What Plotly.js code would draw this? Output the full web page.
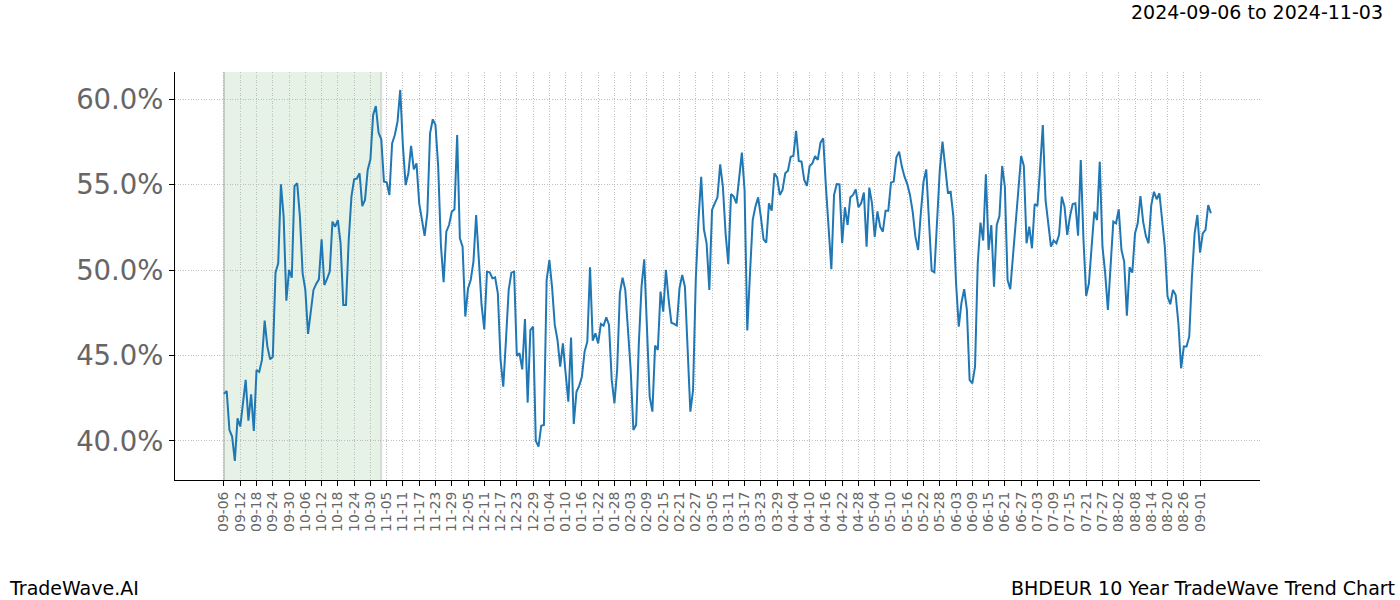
<!DOCTYPE html>
<html>
<head>
<meta charset="utf-8">
<script src="https://cdn.plot.ly/plotly-3.0.1.min.js"></script>
<style>html,body{margin:0;padding:0;background:#fff;}#chart{width:1400px;height:600px;}</style>
</head>
<body>
<div id="chart"></div>
<script>
// First date of the daily series and shaded window
const startDate = "2024-09-06";
const shadeStart = "2024-09-06";
const shadeEnd = "2024-11-03";
const titleText = "2024-09-06 to 2024-11-03";
const brandText = "TradeWave.AI";
const chartName = "BHDEUR 10 Year TradeWave Trend Chart";

// Daily trend values (%), one per calendar day from startDate
const trendValues = [
42.75,42.92,40.64,40.25,38.83,41.32,40.84,42.2,43.57,41.19,
42.73,40.58,44.15,44.04,44.74,47.04,45.52,44.78,44.93,49.85,
50.40,55.02,53.13,48.21,50.01,49.56,54.93,55.08,53.13,49.81,
48.84,46.26,47.67,48.84,49.19,49.46,51.80,49.13,49.48,49.91,
52.84,52.54,52.93,51.57,47.96,47.96,51.76,54.30,55.32,55.36,
55.67,53.75,54.11,55.86,56.49,59.08,59.61,58.05,57.66,55.18,
55.14,54.40,57.42,57.91,58.69,60.55,57.23,54.98,55.67,57.27,
55.90,56.25,53.91,52.93,52.00,53.33,58.01,58.83,58.50,56.06,
51.47,49.29,52.25,52.64,53.42,53.56,57.91,51.86,51.37,47.28,
48.93,49.42,50.49,53.23,50.40,47.96,46.53,49.91,49.87,49.52,
49.58,48.64,44.74,43.18,45.91,48.84,49.85,49.91,44.97,45.13,
44.19,47.14,42.24,46.49,46.69,40.00,39.66,40.89,40.93,49.42,
50.59,49.0,46.79,45.91,44.35,45.71,43.96,42.30,46.05,40.99,
42.88,43.22,43.76,45.23,45.81,50.17,45.87,46.30,45.71,46.85,
46.75,47.24,46.79,43.57,42.20,44.15,48.64,49.56,48.84,46.69,
44.15,40.64,40.93,45.71,49.03,50.63,46.69,42.59,41.71,45.58,
45.32,48.74,47.57,50.01,48.25,46.92,46.85,46.75,48.93,49.71,
49.03,44.93,41.71,42.98,49.42,52.93,55.47,52.39,51.57,48.84,
53.52,53.91,54.26,56.19,54.89,52.15,50.36,54.46,54.30,53.91,
55.47,56.88,54.69,46.46,49.81,52.93,53.72,54.26,53.13,51.80,
51.61,53.91,53.48,55.67,55.43,54.40,54.69,55.67,55.82,56.64,
56.68,58.15,56.39,56.35,55.28,54.93,56.10,56.25,56.68,56.45,
57.46,57.72,54.89,52.54,50.05,54.40,55.04,55.02,51.57,53.68,
52.64,54.26,54.40,54.73,53.68,53.91,54.54,51.37,54.83,53.91,
51.94,53.44,52.54,52.25,53.48,53.48,55.12,55.18,56.60,56.94,
56.06,55.47,55.04,54.40,53.42,51.96,51.18,53.33,55.18,55.90,
52.93,49.97,49.87,52.74,55.86,57.52,56.16,54.54,54.59,53.13,
49.23,46.69,48.10,48.88,47.67,43.57,43.37,44.35,50.40,52.78,
51.73,55.61,51.18,52.64,49.03,52.64,53.17,56.10,54.89,49.42,
48.88,50.79,53.03,54.89,56.68,56.10,51.57,52.54,51.28,53.87,
53.75,55.96,58.50,54.11,52.54,51.37,51.73,51.57,52.06,54.30,
53.72,52.06,53.13,53.87,53.91,52.02,56.45,51.76,48.49,49.23,
51.37,53.42,52.93,56.35,51.37,49.81,47.67,50.21,52.84,52.74,
53.56,51.18,50.50,47.33,50.17,49.85,52.15,52.74,54.34,52.84,
52.00,51.57,53.81,54.59,54.15,54.50,53.03,51.37,48.45,48.00,
48.84,48.54,46.89,44.25,45.52,45.52,46.10,49.62,52.15,53.23,
51.02,52.15,52.35,53.81,53.33
];

// X tick labels (every 6 days)
const xTickLabels = ["09-06","09-12","09-18","09-24","09-30","10-06","10-12","10-18","10-24","10-30",
"11-05","11-11","11-17","11-23","11-29","12-05","12-11","12-17","12-23","12-29",
"01-04","01-10","01-16","01-22","01-28","02-03","02-09","02-15","02-21","02-27",
"03-05","03-11","03-17","03-23","03-29","04-04","04-10","04-16","04-22","04-28",
"05-04","05-10","05-16","05-22","05-28","06-03","06-09","06-15","06-21","06-27",
"07-03","07-09","07-15","07-21","07-27","08-02","08-08","08-14","08-20","08-26","09-01"];
const yTickVals = [40, 45, 50, 55, 60];
const yTickLabels = ["40.0%", "45.0%", "50.0%", "55.0%", "60.0%"];

const DAY = 86400000;
const t0 = Date.parse(startDate + "T00:00:00Z");
function fmt(ms) {
  const d = new Date(ms);
  const p = n => String(n).padStart(2, "0");
  return d.getUTCFullYear() + "-" + p(d.getUTCMonth() + 1) + "-" + p(d.getUTCDate()) +
    " " + p(d.getUTCHours()) + ":" + p(d.getUTCMinutes()) + ":" + p(d.getUTCSeconds());
}
const xDates = trendValues.map((v, i) => fmt(t0 + i * DAY));
const xTickVals = xTickLabels.map((s, i) => fmt(t0 + i * 6 * DAY));

const trace = {
  x: xDates, y: trendValues, type: "scatter", mode: "lines",
  line: {color: "#1f77b4", width: 2}, hoverinfo: "skip"
};

const font = "DejaVu Sans, Liberation Sans, sans-serif";
const gridDash = "1px,1.6px";
const layout = {
  width: 1400, height: 600,
  margin: {l: 175, r: 140, t: 72, b: 120},
  paper_bgcolor: "#ffffff", plot_bgcolor: "#ffffff",
  showlegend: false,
  xaxis: {
    type: "date",
    range: [fmt(t0 - 18.07 * DAY), fmt(t0 + 382.1 * DAY)],
    tickmode: "array", tickvals: xTickVals, ticktext: xTickLabels,
    tickangle: -90,
    tickfont: {family: font, size: 13.9, color: "#666666"},
    ticks: "outside", ticklen: 5, tickcolor: "#000", tickwidth: 1,
    showgrid: true, gridcolor: "#b0b0b0", griddash: gridDash, gridwidth: 0.8,
    showline: true, linecolor: "#000", linewidth: 1,
    zeroline: false, mirror: false
  },
  yaxis: {
    range: [37.71, 61.60],
    tickmode: "array", tickvals: yTickVals, ticktext: yTickLabels,
    tickfont: {family: font, size: 27.5, color: "#666666"},
    ticks: "outside", ticklen: 5, tickcolor: "#000", tickwidth: 1,
    showgrid: true, gridcolor: "#b0b0b0", griddash: gridDash, gridwidth: 0.8,
    showline: true, linecolor: "#000", linewidth: 1,
    zeroline: false
  },
  shapes: [
    {type: "rect", xref: "x", yref: "paper",
     x0: shadeStart, x1: shadeEnd, y0: 0, y1: 1,
     fillcolor: "rgba(0,128,0,0.1)", line: {width: 0}, layer: "below"},
    {type: "line", xref: "x", yref: "paper", x0: shadeStart, x1: shadeStart, y0: 0, y1: 1,
     line: {color: "rgba(128,128,128,0.35)", width: 2}, layer: "below"},
    {type: "line", xref: "x", yref: "paper", x0: shadeEnd, x1: shadeEnd, y0: 0, y1: 1,
     line: {color: "rgba(128,128,128,0.25)", width: 2}, layer: "below"}
  ],
  annotations: [
    {text: titleText, xref: "paper", yref: "paper", x: 1.1152, y: 1.147,
     xanchor: "right", yanchor: "middle", showarrow: false,
     font: {family: font, size: 19, color: "#000"}},
    {text: brandText, xref: "paper", yref: "paper", x: -0.1548, y: -0.2647,
     xanchor: "left", yanchor: "middle", showarrow: false,
     font: {family: font, size: 19, color: "#000"}},
    {text: chartName, xref: "paper", yref: "paper", x: 1.1263, y: -0.2647,
     xanchor: "right", yanchor: "middle", showarrow: false,
     font: {family: font, size: 19, color: "#000"}}
  ]
};

Plotly.newPlot("chart", [trace], layout, {staticPlot: true, displayModeBar: false});
</script>
</body>
</html>
